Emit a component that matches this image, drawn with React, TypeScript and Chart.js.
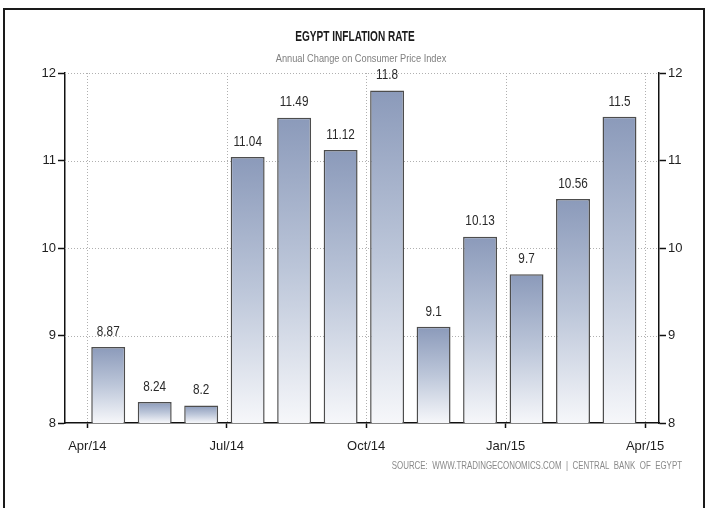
import React, { useEffect, useRef } from "react";
import { Chart, registerables } from "chart.js";

Chart.register(...registerables);

// Months from Apr/14 to Mar/15 (month index 0 = Apr 2014)
const categories = ["Apr/14", "May/14", "Jun/14", "Jul/14", "Aug/14", "Sep/14", "Oct/14", "Nov/14", "Dec/14", "Jan/15", "Feb/15", "Mar/15"];
const inflation = [8.87, 8.24, 8.2, 11.04, 11.49, 11.12, 11.8, 9.1, 10.13, 9.7, 10.56, 11.5];
const tickMonths = [0, 3, 6, 9, 12];
const tickLabels = ["Apr/14", "Jul/14", "Oct/14", "Jan/15", "Apr/15"];
const yTicks = [8, 9, 10, 11, 12];

const TITLE = "EGYPT INFLATION RATE";
const SUBTITLE = "Annual Change on Consumer Price Index";
const SOURCE = "SOURCE:  WWW.TRADINGECONOMICS.COM  |  CENTRAL  BANK  OF  EGYPT";

const FONT = "'Liberation Sans', Arial, sans-serif";
const MID_MONTH = 0.45;

function squeezedText(ctx: CanvasRenderingContext2D, text: string, x: number, y: number, sx: number) {
  ctx.save();
  ctx.translate(x, y);
  ctx.scale(sx, 1);
  ctx.fillText(text, 0, 0);
  ctx.restore();
}

export default function App() {
  const ref = useRef<HTMLCanvasElement | null>(null);

  useEffect(() => {
    if (!ref.current) return;

    const points = categories.map((_, i) => ({ x: i + MID_MONTH, y: inflation[i] }));

    const gridPlugin = {
      id: "dottedGrid",
      beforeDatasetsDraw(chart: any) {
        const { ctx, chartArea, scales } = chart;
        ctx.save();
        ctx.strokeStyle = "#b0b0b0";
        ctx.lineWidth = 1;
        ctx.setLineDash([1, 2]);
        scales.y.ticks.forEach((t: any) => {
          if (t.value === scales.y.min) return;
          const y = Math.round(scales.y.getPixelForValue(t.value)) + 0.5;
          ctx.beginPath();
          ctx.moveTo(chartArea.left, y);
          ctx.lineTo(chartArea.right, y);
          ctx.stroke();
        });
        scales.x.ticks.forEach((t: any) => {
          const x = Math.round(scales.x.getPixelForValue(t.value)) + 0.5;
          ctx.beginPath();
          ctx.moveTo(x, chartArea.top);
          ctx.lineTo(x, chartArea.bottom);
          ctx.stroke();
        });
        ctx.restore();
      },
    };

    const textPlugin = {
      id: "texts",
      afterDatasetsDraw(chart: any) {
        const { ctx, chartArea } = chart;
        ctx.save();
        const meta = chart.getDatasetMeta(0);
        ctx.fillStyle = "#2a2a2a";
        ctx.font = `14px ${FONT}`;
        ctx.textAlign = "center";
        ctx.textBaseline = "bottom";
        meta.data.forEach((bar: any, i: number) => {
          squeezedText(ctx, String(inflation[i]), bar.x, bar.y - 8, 0.84);
        });
        const cx = (chartArea.left + chartArea.right) / 2;
        ctx.textBaseline = "middle";
        ctx.fillStyle = "#1a1a1a";
        ctx.font = `bold 14px ${FONT}`;
        squeezedText(ctx, TITLE, cx - 7, 37, 0.72);
        ctx.fillStyle = "#808080";
        ctx.font = `11px ${FONT}`;
        squeezedText(ctx, SUBTITLE, cx - 1, 59, 0.84);
        ctx.textAlign = "right";
        ctx.fillStyle = "#8a8a8a";
        ctx.font = `11px ${FONT}`;
        squeezedText(ctx, SOURCE, 682, 466, 0.72);
        ctx.restore();
      },
    };

    const chart = new Chart(ref.current, {
      type: "bar",
      data: {
        datasets: [
          {
            data: points as any,
            backgroundColor: (c: any) => {
              const ch = c.chart;
              const { ctx, chartArea, scales } = ch;
              if (!chartArea || !c.parsed || !scales.y) return "#a5b1c9";
              const top = scales.y.getPixelForValue(c.parsed.y);
              const g = ctx.createLinearGradient(0, top, 0, chartArea.bottom);
              g.addColorStop(0, "#8b9aba");
              g.addColorStop(0.5, "#bcc6d9");
              g.addColorStop(1, "#f6f7fa");
              return g;
            },
            borderColor: "#4d4d4d",
            borderWidth: 1.5,
            barPercentage: 0.73,
            categoryPercentage: 1,
          },
        ],
      },
      options: {
        responsive: false,
        animation: false,
        events: [],
        layout: { padding: { top: 73, left: 0, right: 0, bottom: 0 } },
        plugins: {
          legend: { display: false },
          title: { display: false },
          tooltip: { enabled: false },
        },
        scales: {
          x: {
            type: "linear",
            min: -0.48,
            max: 12.3,
            offset: false,
            afterBuildTicks: (axis: any) => {
              axis.ticks = tickMonths.map((v) => ({ value: v }));
            },
            afterFit: (axis: any) => {
              axis.height = 85;
            },
            ticks: {
              autoSkip: false,
              maxRotation: 0,
              padding: 11,
              color: "#1e1e1e",
              font: { family: FONT, size: 13 },
              callback: (v: any) => tickLabels[tickMonths.indexOf(Number(v))] ?? "",
            },
            grid: {
              offset: false,
              drawOnChartArea: false,
              drawTicks: true,
              tickLength: 5,
              tickColor: "#111",
              tickWidth: 1.5,
            },
            border: { display: true, color: "#111", width: 1.5 },
          },
          y: {
            type: "linear",
            position: "left",
            min: 8,
            max: 12,
            afterBuildTicks: (axis: any) => {
              axis.ticks = yTicks.map((v) => ({ value: v }));
            },
            afterFit: (axis: any) => {
              axis.width = 65;
            },
            ticks: {
              padding: 2,
              color: "#1e1e1e",
              font: { family: FONT, size: 13 },
            },
            grid: {
              drawOnChartArea: false,
              drawTicks: true,
              tickLength: 7,
              tickColor: "#111",
              tickWidth: 1.5,
            },
            border: { display: true, color: "#111", width: 1.5 },
          },
          y2: {
            type: "linear",
            position: "right",
            min: 8,
            max: 12,
            afterBuildTicks: (axis: any) => {
              axis.ticks = yTicks.map((v) => ({ value: v }));
            },
            afterFit: (axis: any) => {
              axis.width = 50;
            },
            ticks: {
              padding: 2,
              color: "#1e1e1e",
              font: { family: FONT, size: 13 },
            },
            grid: {
              drawOnChartArea: false,
              drawTicks: true,
              tickLength: 7,
              tickColor: "#111",
              tickWidth: 1.5,
            },
            border: { display: true, color: "#111", width: 1.5 },
          },
        },
      } as any,
      plugins: [gridPlugin, textPlugin],
    });

    return () => chart.destroy();
  }, []);

  return (
    <div
      style={{
        position: "absolute",
        left: 0,
        top: 0,
        width: 709,
        height: 508,
        overflow: "hidden",
        background: "#fff",
      }}
    >
      <canvas ref={ref} width={709} height={508} style={{ position: "absolute", left: 0, top: 0, width: 709, height: 508 }} />
      <div
        style={{
          position: "absolute",
          left: 3,
          top: 8,
          width: 698,
          height: 560,
          border: "2px solid #1a1a1a",
          pointerEvents: "none",
        }}
      />
    </div>
  );
}
